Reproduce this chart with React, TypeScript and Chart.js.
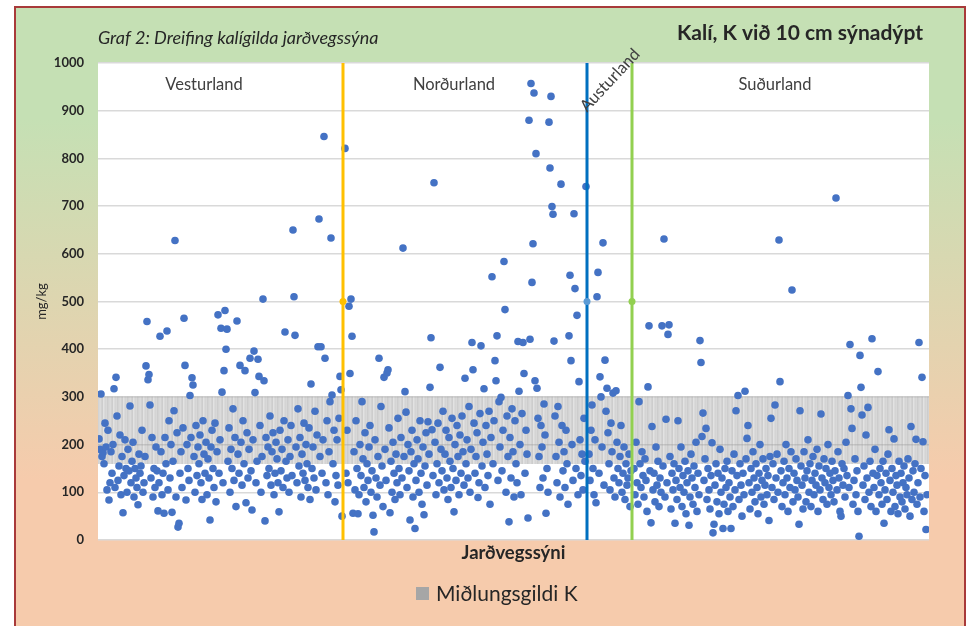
import React, { useEffect, useRef } from 'react';
import { Chart, registerables } from 'chart.js';

Chart.register(...registerables);

// K (mg/kg) per soil sample, in sample order, by region
const vesturland = [
  212, 190, 306, 175, 183, 160, 245, 195, 105, 230,
  84, 120, 185, 140, 200, 317, 110, 341, 260, 125,
  155, 220, 95, 175, 57, 135, 210, 150, 100, 190,
  145, 281, 120, 165, 205, 90, 150, 130, 110, 74,
  180, 140, 155, 230, 100, 120, 175, 365, 458, 336,
  347, 283, 130, 215, 90, 150, 110, 195, 145, 61,
  120, 427, 185, 95, 140, 56, 215, 160, 438, 105,
  250, 130, 200, 58, 165, 271, 628, 90, 225, 27,
  35, 140, 185, 110, 235, 465, 366, 84, 200, 150,
  125, 303, 215, 340, 325, 175, 100, 240, 135, 195,
  160, 220, 120, 85, 250, 180, 140, 205, 95, 170,
  130, 42, 195, 230, 150, 110, 245, 80, 185, 472,
  140, 210, 444, 310, 120, 355, 481, 400, 442, 165,
  235, 100, 190, 150, 275, 125, 215, 70, 459, 180,
  140, 366, 205, 115, 250, 160, 355, 78, 225, 130,
  190, 381, 145, 63, 210, 396, 309, 120, 165, 379,
  343, 240, 100, 175, 505, 334, 40, 215, 135, 195,
  150, 260, 115, 185, 225, 95, 140, 205, 170, 120,
  59, 230, 145, 190, 110, 250, 436, 165, 130, 210,
  100, 175, 240, 135, 650, 510, 429, 195, 120, 275,
  155, 215, 90, 180, 140, 245, 125, 200, 160, 110,
  235, 85, 327, 150, 195, 130, 270, 105, 220, 405,
  673, 175, 405, 140, 210, 846, 381, 120, 250, 95,
  185, 290, 633, 304, 160, 230, 80, 135, 210, 115,
  255, 343, 315, 50,
];

const nordurland = [
  821, 140, 230, 120, 490, 349, 505, 427, 56, 185,
  105, 250, 150, 55, 95, 200, 135, 290, 170, 110,
  225, 80, 160, 125, 195, 240, 100, 145, 52, 17,
  210, 130, 90, 175, 381, 115, 280, 155, 70, 341,
  190, 125, 350, 357, 235, 57, 165, 100, 205, 140,
  85, 180, 120, 255, 150, 95, 215, 130, 612, 175,
  311, 268, 110, 200, 145, 42, 185, 230, 90, 160,
  24, 125, 210, 170, 100, 250, 140, 75, 195, 53,
  155, 225, 115, 248, 180, 320, 424, 231, 135, 749,
  205, 95, 160, 245, 120, 362, 190, 145, 270, 105,
  180, 230, 130, 85, 215, 165, 110, 255, 150, 59,
  200, 125, 240, 175, 95, 220, 140, 260, 185, 115,
  339, 160, 210, 130, 280, 100, 190, 414, 357, 245,
  140, 175, 225, 89, 120, 265, 407, 155, 205, 317,
  110, 240, 180, 135, 270, 75, 215, 552, 160, 250,
  376, 334, 428, 125, 290, 195, 299, 145, 230, 584,
  483, 100, 260, 175, 38, 215, 130, 275, 185, 90,
  250, 160, 120, 416, 312, 200, 95, 265, 414, 349,
  140, 230, 180, 46, 880, 421, 957, 540, 621, 937,
  334, 810, 318, 255, 175, 110, 240, 195, 130, 285,
  220, 56, 150, 100, 876, 780, 930, 699, 683, 417,
  260, 175, 120, 280, 205, 90, 746, 240, 145, 185,
  110, 230, 160, 75, 428, 555, 376, 200, 125, 684,
  527, 150, 471, 95, 332, 210, 135, 180, 105, 255,
  165, 741,
];

const austurland = [
  180, 125, 230, 283, 150, 95, 210, 78, 510, 561,
  140, 342, 300, 195, 623, 115, 377, 270, 318, 225,
  160, 105, 245, 185, 308, 130, 90, 313, 205, 150,
  120, 175, 240, 100, 140, 195, 85, 160, 115, 130,
  180, 70, 145,
];

const sudurland = [
  150, 95, 205, 120, 75, 290, 160, 110, 185, 135,
  90, 170, 125, 60, 321, 449, 145, 36, 238, 105,
  140, 80, 195, 115, 165, 70, 130, 100, 449, 155,
  631, 90, 253, 120, 431, 451, 175, 65, 140, 105,
  160, 35, 125, 85, 250, 150, 110, 195, 70, 135,
  100, 165, 55, 120, 145, 31, 90, 180, 130, 75,
  155, 110, 205, 60, 140, 95, 418, 372, 217, 266,
  125, 170, 234, 85, 150, 105, 65, 135, 204, 15,
  33, 115, 160, 80, 140, 55, 190, 100, 130, 24,
  75, 150, 110, 165, 60, 120, 90, 24, 145, 70,
  180, 105, 271, 135, 303, 85, 160, 115, 50, 140,
  95, 312, 170, 213, 240, 120, 65, 150, 100, 185,
  130, 80, 160, 110, 55, 140, 200, 90, 125, 170,
  75, 115, 150, 95, 135, 41, 175, 255, 110, 160,
  85, 283, 130, 180, 100, 629, 332, 145, 70, 120,
  165, 95, 200, 130, 60, 150, 110, 185, 524, 80,
  140, 105, 170, 125, 90, 33, 271, 155, 115, 65,
  185, 130, 80, 145, 210, 100, 160, 70, 125, 175,
  95, 140, 115, 190, 60, 155, 105, 264, 130, 85,
  170, 120, 150, 75, 200, 110, 140, 95, 165, 125,
  80, 145, 717, 105, 185, 130, 60, 50, 160, 115,
  150, 90, 205, 135, 303, 110, 410, 275, 234, 75,
  125, 170, 95, 145, 60, 8, 387, 320, 262, 115,
  155, 85, 220, 130, 278, 100, 165, 70, 422, 140,
  110, 190, 60, 135, 353, 95, 150, 120, 75, 165,
  35, 105, 140, 85, 180, 231, 125, 60, 150, 100,
  212, 70, 135, 115, 55, 165, 90, 140, 80, 120,
  155, 65, 110, 95, 170, 130, 50, 238, 85, 145,
  100, 160, 211, 75, 120, 414, 90, 150, 341, 206,
  60, 135, 22, 95,
];

const regionNames = ['Vesturland', 'Norðurland', 'Austurland', 'Suðurland'];
const separatorColors = ['#ffc000', '#0070c0', '#92d050'];
const separatorMarkerColors = ['#ffc000', '#5b9bd5', '#92d050'];
const yTicks = [0, 100, 200, 300, 400, 500, 600, 700, 800, 900, 1000];
const medianBand = [160, 300];
const separatorMarkerValue = 500;

const chartTitle = 'Kalí, K við 10 cm sýnadýpt';
const chartSubtitle = 'Graf 2: Dreifing kalígilda jarðvegssýna';
const yAxisTitle = 'mg/kg';
const xAxisTitle = 'Jarðvegssýni';
const bandLabel = 'Miðlungsgildi K';

const FONT = 'Lato';

export default function App() {
  const ref = useRef<HTMLCanvasElement | null>(null);

  useEffect(() => {
    const canvas = ref.current;
    if (!canvas) return;

    const regions = [vesturland, nordurland, austurland, sudurland];
    const points: { x: number; y: number }[] = [];
    const separators: number[] = [];
    let cursor = 1;
    regions.forEach((arr, r) => {
      arr.forEach((v, i) => points.push({ x: cursor + i, y: v }));
      cursor += arr.length;
      if (r < regions.length - 1) {
        separators.push(cursor);
        cursor += 2;
      }
    });
    const xMax = cursor + 1;

    const band: { x: number; y: number[] }[] = [];
    for (let i = 0; i <= xMax; i++) band.push({ x: i, y: medianBand });
    const stripe = [0.38, 0.18, 0.31, 0.14, 0.42, 0.24, 0.1, 0.34, 0.2, 0.28];

    const sepDatasets = separators.map((sx, i) => ({
      type: 'line' as const,
      data: [
        { x: sx, y: 0 },
        { x: sx, y: separatorMarkerValue },
        { x: sx, y: 1000 },
      ],
      borderColor: separatorColors[i],
      borderWidth: 3,
      pointRadius: [0, 3.5, 0],
      pointBackgroundColor: separatorMarkerColors[i],
      pointBorderWidth: 0,
      fill: false,
      order: 1,
    }));

    const labelPos = [
      { x: 106, y: 954, rot: 0 },
      { x: 356, y: 954, rot: 0 },
      { x: 512, y: 964, rot: -0.82 },
      { x: 677, y: 954, rot: 0 },
    ];

    const decor = {
      id: 'decor',
      beforeDraw(chart: any) {
        const { ctx, chartArea: a } = chart;
        ctx.save();
        ctx.fillStyle = '#ffffff';
        ctx.fillRect(a.left, a.top, a.right - a.left, a.bottom - a.top);
        ctx.restore();
      },
      afterDraw(chart: any) {
        const { ctx, chartArea: a } = chart;
        const xs = chart.scales.x;
        const ys = chart.scales.y;
        ctx.save();
        ctx.textBaseline = 'middle';
        ctx.fillStyle = '#262626';
        ctx.textAlign = 'left';
        ctx.font = `italic 18px ${FONT}`;
        ctx.fillText(chartSubtitle, 98, 38);
        ctx.textAlign = 'right';
        ctx.font = `bold 21px ${FONT}`;
        ctx.fillText(chartTitle, 923, 33);

        ctx.fillStyle = '#404040';
        ctx.font = `16.5px ${FONT}`;
        regionNames.forEach((name, i) => {
          const p = labelPos[i];
          const px = xs.getPixelForValue(p.x);
          const py = ys.getPixelForValue(p.y);
          ctx.save();
          ctx.translate(px, py);
          ctx.rotate(p.rot);
          ctx.textAlign = 'center';
          ctx.fillText(name, 0, 0);
          ctx.restore();
        });

        ctx.fillStyle = '#262626';
        ctx.save();
        ctx.translate(42, (a.top + a.bottom) / 2);
        ctx.rotate(-Math.PI / 2);
        ctx.textAlign = 'center';
        ctx.font = `13px ${FONT}`;
        ctx.fillText(yAxisTitle, 0, 0);
        ctx.restore();

        ctx.textAlign = 'center';
        ctx.font = `bold 18.5px ${FONT}`;
        ctx.fillText(xAxisTitle, (a.left + a.right) / 2, 553);

        ctx.fillStyle = '#a6a6a6';
        ctx.fillRect(416, 587, 13, 13);
        ctx.fillStyle = '#262626';
        ctx.textAlign = 'left';
        ctx.font = `21px ${FONT}`;
        ctx.fillText(bandLabel, 436, 594);
        ctx.restore();
      },
    };

    const chart = new Chart(canvas, {
      type: 'scatter',
      data: {
        datasets: [
          ...sepDatasets,
          {
            type: 'scatter' as const,
            label: 'K',
            data: points,
            backgroundColor: '#4472c4',
            borderWidth: 0,
            pointRadius: 3.8,
            order: 5,
          },
          {
            type: 'bar' as const,
            label: bandLabel,
            data: band as any,
            backgroundColor: (c: any) => `rgba(150,150,150,${stripe[c.dataIndex % stripe.length]})`,
            borderWidth: 0,
            barThickness: 1,
            grouped: false,
            order: 10,
          },
        ],
      } as any,
      options: {
        responsive: false,
        animation: false,
        events: [],
        layout: { padding: { left: 30, right: 43, top: 63, bottom: 86 } },
        plugins: {
          legend: { display: false },
          tooltip: { enabled: false },
          title: { display: false },
        },
        scales: {
          x: {
            type: 'linear',
            min: 0,
            max: xMax,
            offset: false,
            display: false,
          },
          y: {
            type: 'linear',
            min: 0,
            max: 1000,
            afterFit: (s: any) => {
              s.width = 68;
            },
            afterBuildTicks: (s: any) => {
              s.ticks = yTicks.map((v) => ({ value: v }));
            },
            border: { display: false },
            grid: { color: '#d9d9d9', lineWidth: 1.6, drawTicks: false },
            ticks: {
              padding: 14,
              color: '#262626',
              font: { family: FONT, size: 13, weight: 'bold' },
              callback: (v: any) => String(v),
            },
          },
        },
      } as any,
      plugins: [decor],
    });

    return () => chart.destroy();
  }, []);

  return (
    <div style={{ position: 'absolute', left: 0, top: 0, width: 972, height: 626, overflow: 'hidden', background: '#ffffff' }}>
      <div
        style={{
          position: 'absolute',
          left: 14,
          top: 6,
          width: 952,
          height: 660,
          boxSizing: 'border-box',
          border: '2px solid #a83a3a',
          background: 'linear-gradient(to bottom, #c5e0b4 0%, #c5e0b4 17%, #f6cbac 72%, #f6cbac 100%)',
        }}
      />
      <canvas
        ref={ref}
        width={972}
        height={626}
        style={{ position: 'absolute', left: 0, top: 0, width: 972, height: 626 }}
      />
    </div>
  );
}
